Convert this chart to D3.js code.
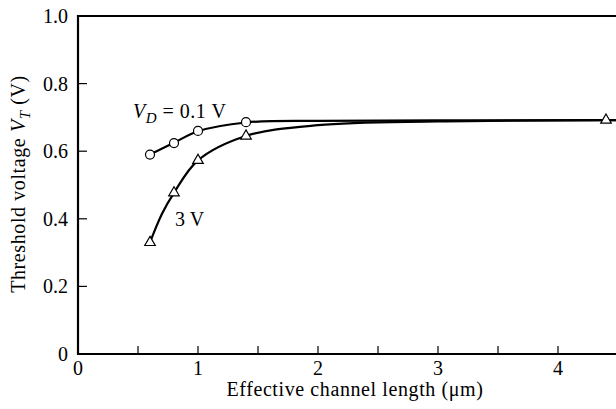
<!DOCTYPE html>
<html><head><meta charset="utf-8">
<script src="https://cdn.jsdelivr.net/npm/d3@7"></script>
<style>
html,body{margin:0;padding:0;background:#fff;}
</style></head>
<body><svg id="chart" width="616" height="409" font-family="'Liberation Serif', 'Times New Roman', serif"></svg>
<script>
// Measured points
const lenCircles = [0.6, 0.8, 1.0, 1.4];
const vtCircles = [0.59, 0.624, 0.66, 0.686];
const lenTriangles = [0.6, 0.8, 1.0, 1.4, 4.4];
const vtTriangles = [0.33, 0.477, 0.573, 0.645, 0.692];
// Fitted curves
const curveLenLow = [0.6, 0.8, 1.0, 1.4, 2.0, 3.0, 4.5];
const curveVtLow = [0.59, 0.625, 0.659, 0.685, 0.69, 0.691, 0.692];
const curveLenHigh = [0.6, 0.7, 0.8, 1.0, 1.4, 2.0, 3.0, 4.4, 4.5];
const curveVtHigh = [0.33, 0.415, 0.477, 0.573, 0.645, 0.677, 0.688, 0.692, 0.692];
const xTickLabels = [0, 1, 2, 3, 4];
const xTicksAll = [0.5, 1, 1.5, 2, 2.5, 3, 3.5, 4];
const yTickLabels = [0, 0.2, 0.4, 0.6, 0.8, 1.0];
const yTicksInner = [0.2, 0.4, 0.6, 0.8];

const svg = d3.select("#chart");
const x = d3.scaleLinear().domain([0, 4.5]).range([78, 618]);
const y = d3.scaleLinear().domain([0, 1]).range([354, 16]);

// frame
svg.append("line").attr("x1", x(0)).attr("x2", 616).attr("y1", y(0)).attr("y2", y(0)).attr("stroke", "#000").attr("stroke-width", 2.2);
svg.append("line").attr("x1", x(0)).attr("x2", 616).attr("y1", y(1)).attr("y2", y(1)).attr("stroke", "#000").attr("stroke-width", 2);
svg.append("line").attr("x1", x(0)).attr("x2", x(0)).attr("y1", y(1) - 1).attr("y2", y(0) + 1).attr("stroke", "#000").attr("stroke-width", 2.2);

// ticks
svg.selectAll(".xt").data(xTicksAll).join("line")
  .attr("x1", d => x(d)).attr("x2", d => x(d)).attr("y1", y(0)).attr("y2", y(0) - 8)
  .attr("stroke", "#000").attr("stroke-width", 1.2);
svg.selectAll(".yt").data(yTicksInner).join("line")
  .attr("x1", x(0)).attr("x2", x(0) + 9).attr("y1", d => y(d)).attr("y2", d => y(d))
  .attr("stroke", "#000").attr("stroke-width", 1.2);

// tick labels
svg.selectAll(".xl").data(xTickLabels).join("text")
  .attr("x", d => x(d)).attr("y", 375).attr("text-anchor", "middle")
  .attr("font-size", 20).text(d => d);
svg.selectAll(".yl").data(yTickLabels).join("text")
  .attr("x", 68).attr("y", d => y(d) + 7).attr("text-anchor", "end")
  .attr("font-size", 20).text(d => d === 0 ? "0" : d.toFixed(1));

// axis titles
svg.append("text").attr("x", 355).attr("y", 396).attr("text-anchor", "middle")
  .attr("font-size", 20).attr("letter-spacing", 0.6).text("Effective channel length (\u03bcm)");
const yt = svg.append("text").attr("transform", "translate(25,184) rotate(-90)")
  .attr("text-anchor", "middle").attr("font-size", 20).attr("letter-spacing", 0.6);
yt.append("tspan").text("Threshold voltage ");
yt.append("tspan").attr("font-style", "italic").text("V");
yt.append("tspan").attr("font-style", "italic").attr("font-size", 15).attr("dy", 5).text("T");
yt.append("tspan").attr("dy", -5).text(" (V)");

// curves
const line = d3.line().x(d => x(d[0])).y(d => y(d[1])).curve(d3.curveCatmullRom.alpha(0.5));
svg.append("path").datum(curveLenLow.map((v, i) => [v, curveVtLow[i]]))
  .attr("d", line).attr("fill", "none").attr("stroke", "#000").attr("stroke-width", 2.2);
svg.append("path").datum(curveLenHigh.map((v, i) => [v, curveVtHigh[i]]))
  .attr("d", line).attr("fill", "none").attr("stroke", "#000").attr("stroke-width", 2.2);

// markers
svg.selectAll(".c").data(lenCircles.map((v, i) => [v, vtCircles[i]])).join("circle")
  .attr("cx", d => x(d[0])).attr("cy", d => y(d[1])).attr("r", 4.5)
  .attr("fill", "#fff").attr("stroke", "#000").attr("stroke-width", 1.2);
const tri = d3.symbol().type(d3.symbolTriangle).size(48);
svg.selectAll(".t").data(lenTriangles.map((v, i) => [v, vtTriangles[i]])).join("path")
  .attr("d", tri).attr("transform", d => `translate(${x(d[0])},${y(d[1])})`)
  .attr("fill", "#fff").attr("stroke", "#000").attr("stroke-width", 1.2);

// annotations
const a1 = svg.append("text").attr("x", 133).attr("y", 118).attr("font-size", 20).attr("letter-spacing", 0.5);
a1.append("tspan").attr("font-style", "italic").text("V");
a1.append("tspan").attr("font-style", "italic").attr("font-size", 15).attr("dy", 5).text("D");
a1.append("tspan").attr("dy", -5).text(" = 0.1 V");
svg.append("text").attr("x", 175).attr("y", 226).attr("font-size", 20).text("3 V");
</script></body></html>
